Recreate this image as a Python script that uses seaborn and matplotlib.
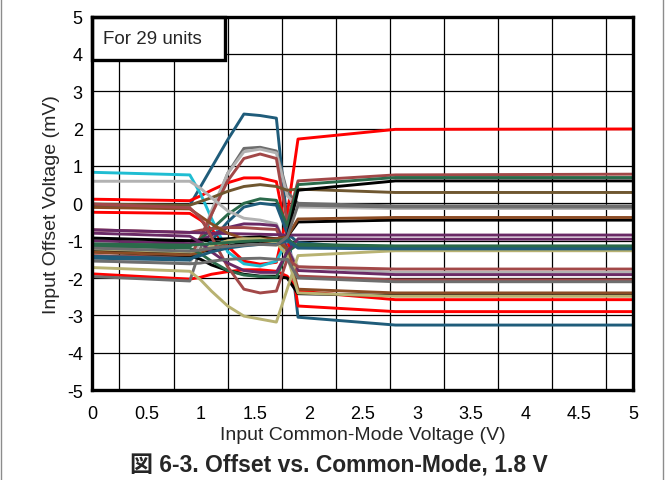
import numpy as np
import pandas as pd
import matplotlib
matplotlib.use("Agg")
import matplotlib.pyplot as plt
from matplotlib.patches import Rectangle
from matplotlib.lines import Line2D
import seaborn as sns

# ---------------- data ----------------
vcm = [0, 0.9, 1.0, 1.1, 1.25, 1.4, 1.55, 1.7, 1.8, 1.9, 2.8, 5.0]

teal_a   = [-0.07, -0.05, 0.45, 0.95, 1.70, 2.39, 2.35, 2.28, -0.50, -3.05, -3.26, -3.26]
red_a    = [-0.24, -0.27, -0.45, -0.70, -1.15, -1.55, -1.63, -1.58, -0.30, 1.72, 1.98, 1.99]
red_b    = [0.11, 0.07, 0.20, 0.35, 0.55, 0.68, 0.68, 0.58, -0.90, -2.75, -2.90, -2.90]
red_c    = [-1.89, -2.03, -1.98, -1.90, -1.83, -1.78, -1.78, -1.82, -1.95, -2.35, -2.58, -2.58]
cyan_a   = [0.83, 0.76, 0.25, -0.40, -1.30, -1.62, -1.68, -1.55, -1.00, -1.15, -1.22, -1.22]
dgray_a  = [-1.96, -2.08, -1.20, -0.30, 0.80, 1.47, 1.50, 1.40, 0.30, 0.00, -0.07, -0.07]
lgray_a  = [-1.55, -1.60, -1.00, -0.20, 0.80, 1.38, 1.45, 1.35, 0.20, -0.10, -0.14, -0.14]
rosy_a   = [-1.40, -1.45, -0.90, -0.30, 0.60, 1.20, 1.32, 1.20, -0.50, 0.60, 0.76, 0.78]
olive_a  = [-0.02, -0.05, 0.05, 0.15, 0.32, 0.45, 0.50, 0.45, 0.35, 0.38, 0.29, 0.29]
green_a  = [-1.09, -1.15, -0.95, -0.70, -0.30, 0.00, 0.12, 0.08, -0.60, 0.50, 0.69, 0.69]
teal_b   = [-1.47, -1.52, -1.30, -1.00, -0.50, -0.10, 0.00, -0.05, -0.80, -1.05, -1.25, -1.25]
lgray_b  = [0.59, 0.59, 0.40, 0.15, -0.20, -0.40, -0.45, -0.55, -1.20, -1.70, -1.85, -1.85]
purple_a = [-1.00, -1.08, -1.00, -0.85, -0.65, -0.55, -0.56, -0.60, -1.20, -1.80, -1.91, -1.91]
rosy_b   = [-0.71, -0.78, -0.72, -0.68, -0.65, -0.65, -0.68, -0.70, -1.30, -1.95, -2.05, -2.05]
purple_b = [-0.71, -0.78, -0.79, -0.80, -0.81, -0.82, -0.83, -0.84, -0.85, -0.85, -0.85, -0.85]
black_a  = [-0.93, -1.00, -0.98, -0.97, -0.95, -0.92, -0.90, -0.95, -0.90, 0.35, 0.60, 0.60]
black_b  = [-1.25, -1.35, -1.30, -1.25, -1.15, -1.05, -1.02, -1.05, -0.90, -0.50, -0.45, -0.45]
black_c  = [-1.30, -1.40, -1.50, -1.65, -1.80, -1.90, -1.95, -1.95, -2.00, -2.42, -2.47, -2.47]
sienna_a = [-1.31, -1.38, -1.30, -1.20, -1.05, -0.98, -0.95, -0.95, -0.90, -0.42, -0.38, -0.38]
sienna_b = [-0.11, -0.15, -0.35, -0.55, -0.80, -0.95, -1.00, -1.05, -1.20, -2.30, -2.40, -2.40]
khaki_a  = [-1.72, -1.82, -2.05, -2.35, -2.75, -3.02, -3.10, -3.18, -2.30, -1.40, -1.27, -1.27]
khaki_b  = [-1.22, -1.30, -1.25, -1.15, -1.00, -0.95, -0.95, -1.05, -1.40, -2.40, -2.49, -2.49]
green_b  = [-1.15, -1.20, -1.35, -1.55, -1.80, -1.92, -1.96, -1.98, -1.30, -1.10, -1.14, -1.14]
rosy_c   = [-0.02, -0.12, -0.40, -0.90, -1.70, -2.30, -2.40, -2.35, -1.50, -1.70, -1.76, -1.76]
purple_c = [-0.80, -0.88, -1.05, -1.30, -1.60, -1.80, -1.85, -1.85, -1.30, -0.95, -0.96, -0.96]
dgray_b  = [-1.54, -1.62, -1.60, -1.55, -1.50, -1.48, -1.47, -1.50, -1.50, -2.00, -2.10, -2.10]
green_c  = [-1.09, -1.12, -1.10, -1.08, -1.05, -1.02, -1.00, -1.00, -0.95, -1.15, -1.18, -1.18]
teal_c   = [-1.42, -1.48, -1.40, -1.30, -1.20, -1.14, -1.10, -1.10, -1.00, -1.20, -1.22, -1.22]
dgray_c  = [-1.20, -1.28, -1.25, -1.20, -1.15, -1.12, -1.10, -1.12, -0.90, -0.05, -0.10, -0.10]

RED, TEAL, CYAN = "#ff0000", "#1f5c7a", "#1fbdd2"
LGRAY, DGRAY, ROSY = "#b2b2b2", "#6e6e6e", "#a24848"
OLIVE, SIENNA, BLACK = "#6f5730", "#8b4c25", "#000000"
PURPLE, GREEN, KHAKI = "#6a2a66", "#2a6a4a", "#b8b272"

series = [
    ("u01", teal_a, TEAL), ("u02", red_a, RED), ("u03", red_b, RED),
    ("u04", red_c, RED), ("u05", cyan_a, CYAN), ("u06", dgray_a, DGRAY),
    ("u07", lgray_a, LGRAY), ("u08", rosy_a, ROSY), ("u09", olive_a, OLIVE),
    ("u10", green_a, GREEN), ("u11", teal_b, TEAL), ("u12", lgray_b, LGRAY),
    ("u13", purple_a, PURPLE), ("u14", rosy_b, ROSY), ("u15", purple_b, PURPLE),
    ("u16", black_a, BLACK), ("u17", black_b, BLACK), ("u18", black_c, BLACK),
    ("u19", sienna_a, SIENNA), ("u20", sienna_b, SIENNA), ("u21", khaki_a, KHAKI),
    ("u22", khaki_b, KHAKI), ("u23", green_b, GREEN), ("u24", rosy_c, ROSY),
    ("u25", purple_c, PURPLE), ("u26", dgray_b, DGRAY), ("u27", green_c, GREEN),
    ("u28", teal_c, TEAL), ("u29", dgray_c, DGRAY),
]

xticks = [0, 0.5, 1, 1.5, 2, 2.5, 3, 3.5, 4, 4.5, 5]
xtick_labels = ["0", "0.5", "1", "1.5", "2", "2.5", "3", "3.5", "4", "4.5", "5"]
yticks = [-5, -4, -3, -2, -1, 0, 1, 2, 3, 4, 5]
ytick_labels = ["-5", "-4", "-3", "-2", "-1", "0", "1", "2", "3", "4", "5"]

# ---------------- build table ----------------
rows = []
for name, vals, _ in series:
    for xv, yv in zip(vcm, vals):
        rows.append({"unit": name, "vcm": xv, "vos": yv})
df = pd.DataFrame(rows)
palette = {name: col for name, _, col in series}

# ---------------- plot ----------------
sns.set_theme(style="white")
plt.rcParams["font.family"] = ["Liberation Sans", "Noto Sans CJK JP", "DejaVu Sans"]

fig = plt.figure(figsize=(6.65, 4.81), dpi=100)
ax = fig.add_axes([0.139, 0.187, 0.8135, 0.7765])

sns.lineplot(data=df, x="vcm", y="vos", hue="unit", units="unit", estimator=None,
             sort=False, palette=palette, legend=False, linewidth=2.1, ax=ax, zorder=3)

ax.set_xlim(0, 5)
ax.set_ylim(-5, 5)
ax.set_xticks(xticks)
ax.set_xticklabels(xtick_labels)
ax.set_xticks(np.arange(0, 5.001, 0.25), minor=True)
ax.set_yticks(yticks)
ax.set_yticklabels(ytick_labels)
ax.tick_params(axis="both", which="both", length=0, labelsize=13, colors="black")
ax.tick_params(axis="x", pad=11)
ax.tick_params(axis="y", pad=7)
ax.grid(which="major", axis="y", color="black", linewidth=0.9)
ax.grid(which="minor", axis="x", color="black", linewidth=0.9)
ax.grid(which="major", axis="x", visible=False)
ax.set_axisbelow(True)
for sp in ax.spines.values():
    sp.set_visible(True)
    sp.set_color("black")
    sp.set_linewidth(2.4)
    sp.set_zorder(6)

ax.set_xlabel("Input Common-Mode Voltage (V)", fontsize=14, labelpad=3)
ax.set_ylabel("Input Offset Voltage (mV)", fontsize=14, labelpad=5)

# "For 29 units" box
box = Rectangle((0, 0.8835), 0.245, 0.1165, transform=ax.transAxes, facecolor="white",
                edgecolor="black", linewidth=2.4, zorder=5, clip_on=False)
ax.add_patch(box)
ax.text(0.02, 0.942, "For 29 units", transform=ax.transAxes, fontsize=13.5,
        va="center", ha="left", zorder=7)

# caption
fig.text(0.51, 0.031, "図 6-3. Offset vs. Common-Mode, 1.8 V", ha="center", va="center",
         fontsize=16.5, fontweight="bold")

# figure frame sides
for xf in (0.002, 0.997):
    fig.add_artist(Line2D([xf, xf], [0, 1], transform=fig.transFigure, color="#8c8c8c", linewidth=1))

fig.savefig("out.png", dpi=100)
